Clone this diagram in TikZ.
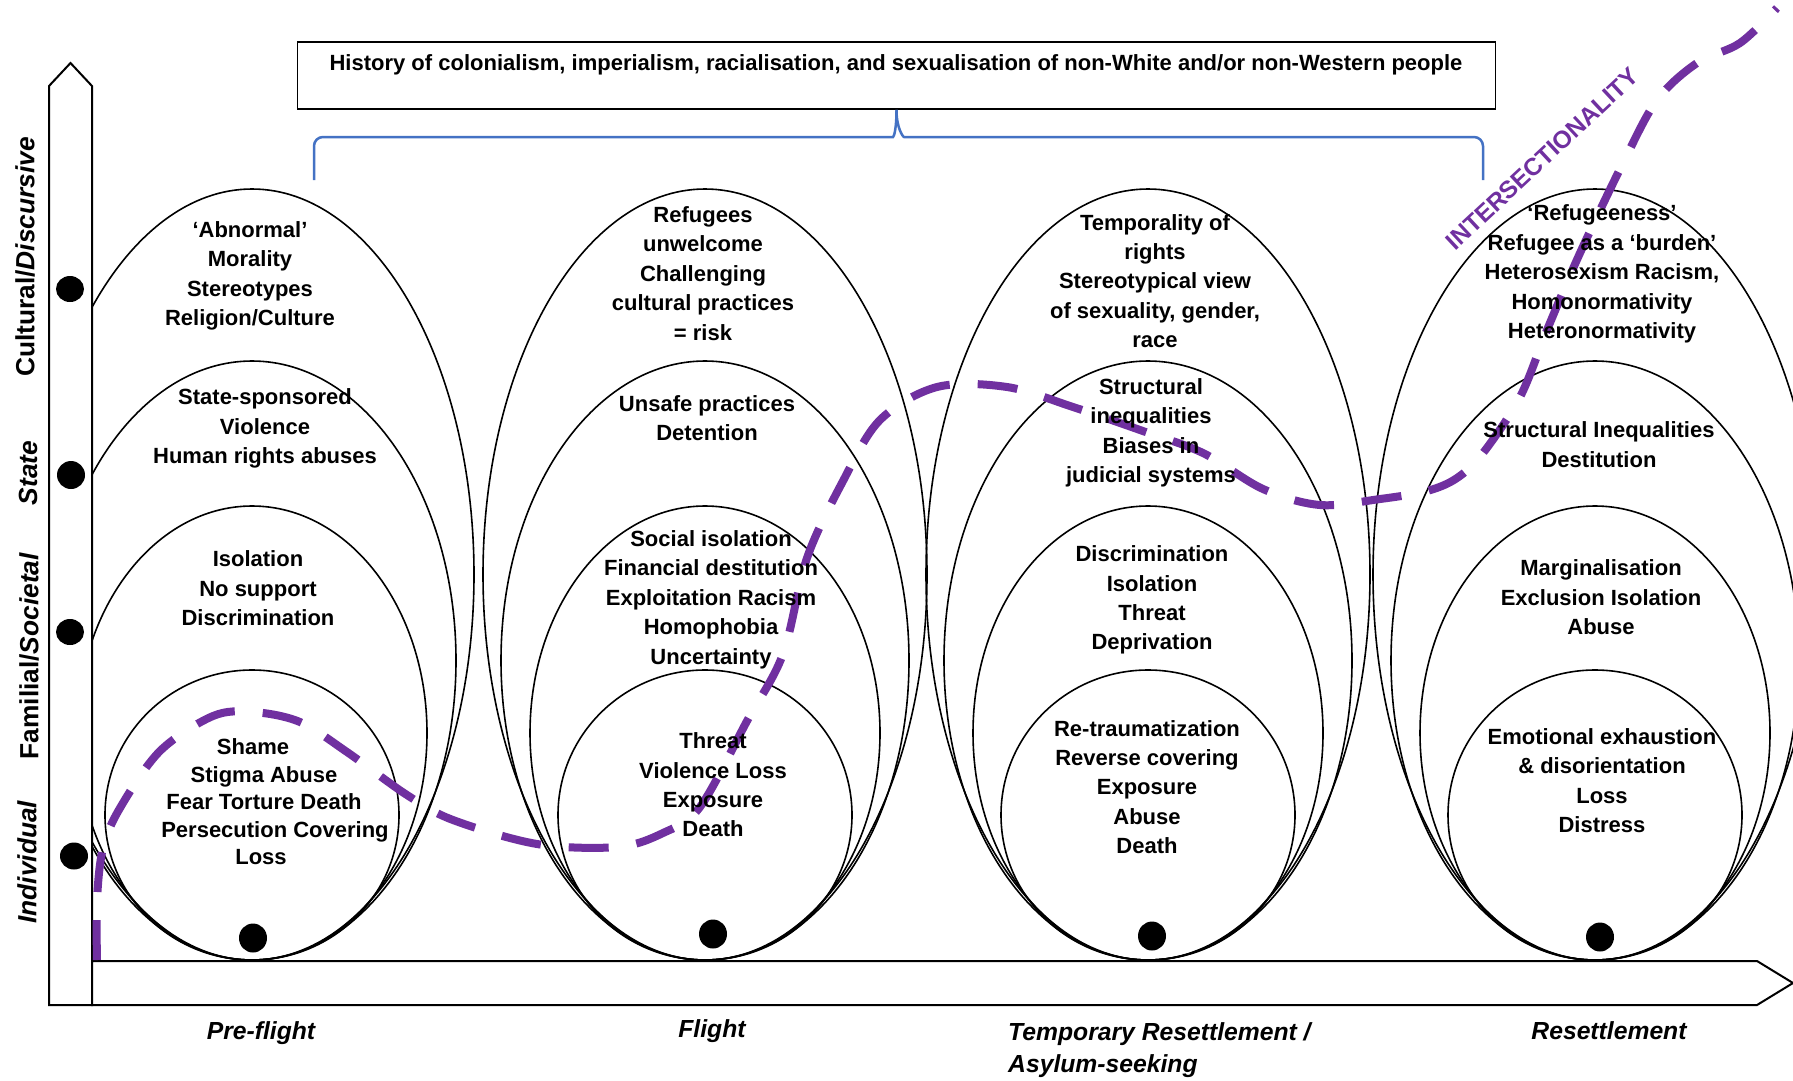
\documentclass[tikz,border=0pt]{standalone}
\usepackage{fontspec}
\setmainfont{Liberation Sans}
\definecolor{ipurple}{RGB}{112,48,160}
\definecolor{bblue}{RGB}{68,114,196}
\begin{document}
\begin{tikzpicture}[x=1pt,y=-1pt,
  ring/.style={draw=black,line width=1.6pt},
  axisbox/.style={draw=black,line width=2pt,fill=white,line join=miter},
  txt/.style={font=\fontsize{22}{29.4}\selectfont\bfseries,align=center,inner sep=0pt},
  axlab/.style={font=\fontsize{26.3}{30}\selectfont\bfseries,rotate=90,inner sep=0pt},
  phase/.style={font=\fontsize{24.7}{32}\selectfont\bfseries\itshape,inner sep=0pt},
  ]
\useasboundingbox (0,0) rectangle (1793,1080);
\clip (0,0) rectangle (1793,1080);
\fill[white] (0,0) rectangle (1793,1080);

% nested ellipses
\begin{scope}
\clip (92,0) rectangle (1793,1080);
\foreach \cx in {252,705,1148,1595}{
  \draw[ring] (\cx,574.5) ellipse [x radius=222pt,y radius=385.5pt];
  \draw[ring] (\cx,660.5) ellipse [x radius=204pt,y radius=299.5pt];
  \draw[ring] (\cx,733) ellipse [x radius=175pt,y radius=227pt];
  \draw[ring] (\cx,815) ellipse [x radius=147pt,y radius=145pt];
}
\end{scope}

% axes
\draw[axisbox] (49,1005) -- (49,86) -- (70.5,63) -- (92,86) -- (92,1005) -- cycle;
\draw[axisbox] (92,961) -- (1757,961) -- (1793,983) -- (1757,1005) -- (92,1005) -- cycle;

% top box and brace
\node[draw=black,line width=1.8pt,minimum width=1198pt,minimum height=67pt,inner sep=0pt] (hist) at (896.5,75.5) {};
\node[font=\fontsize{22}{26}\selectfont\bfseries,inner sep=0pt] (histtxt) at (896,65) {History of colonialism, imperialism, racialisation, and sexualisation of non-White and/or non-Western people};
\draw[bblue,line width=2.5pt,rounded corners=9pt] (314,180) -- (314,137) -- (884,137)
   [sharp corners] .. controls (894,137) and (hist.south |- 0,128) .. (hist.south);
\draw[bblue,line width=2.5pt,rounded corners=9pt] (1483,180) -- (1483,137) -- (913,137)
   [sharp corners] .. controls (903,137) and (hist.south |- 0,128) .. (hist.south);

% intersectionality line
\draw[ipurple,line width=8pt,dash pattern=on 40pt off 28pt]
  plot[smooth,tension=0.55] coordinates {(97,960) (97,900) (103,848) (120,808) (160,751) (213,716) (253,712) (300,722) (347,752) (407,795) (453,820) (537,844) (617,847) (663,833) (700,807) (747,721) (783,654) (807,558) (843,481) (880,420) (937,387) (1007,387) (1073,407) (1140,430) (1203,453) (1263,489) (1320,505) (1380,499) (1427,491) (1457,478) (1483,453) (1520,397) (1547,330) (1580,253) (1623,163) (1657,100) (1697,63) (1740,43) (1777,8)};
\node[ipurple,font=\fontsize{24.5}{28}\selectfont\bfseries,rotate=43,inner sep=0pt] (inter) at (1542,159) {INTERSECTIONALITY};

% texts column 1
\node[txt] (c1a) at (250,276) {‘Abnormal’\\Morality\\Stereotypes\\Religion/Culture};
\node[txt] (c1b) at (265,428.5) {State-sponsored\\Violence\\Human rights abuses};
\node[txt] (c1c) at (258,588.5) {Isolation\\No support\\Discrimination};
\node[txt,font=\fontsize{22}{27.5}\selectfont\bfseries] (c1d) at (264,802) {Shame\hspace*{22pt}\\Stigma Abuse\hspace*{8pt}\\Fear Torture Death\hspace*{8pt}\\\hspace*{22pt}Persecution Covering\\Loss\hspace*{6pt}};
% column 2
\node[txt] (c2a) at (703,273.5) {Refugees\\unwelcome\\Challenging\\cultural practices\\= risk};
\node[txt] (c2b) at (707,418) {Unsafe practices\\Detention};
\node[txt] (c2c) at (711,599.5) {Social isolation\\Financial destitution\\Exploitation Racism\\Homophobia\\Uncertainty};
\node[txt] (c2d) at (713,785) {Threat\\Violence Loss\\Exposure\\Death};
% column 3
\node[txt] (c3a) at (1155,281) {Temporality of\\rights\\Stereotypical view\\of sexuality, gender,\\race};
\node[txt] (c3b) at (1151,433) {Structural\\inequalities\\Biases in\\judicial systems};
\node[txt] (c3c) at (1152,600) {Discrimination\\Isolation\\Threat\\Deprivation};
\node[txt] (c3d) at (1147,787) {Re-traumatization\\Reverse covering\\Exposure\\Abuse\\Death};
% column 4
\node[txt] (c4a) at (1602,274) {‘Refugeeness’\\Refugee as a ‘burden’\\Heterosexism Racism,\\Homonormativity\\Heteronormativity};
\node[txt] (c4b) at (1599,444.5) {Structural Inequalities\\Destitution};
\node[txt] (c4c) at (1601,597.5) {Marginalisation\\Exclusion Isolation\\Abuse};
\node[txt] (c4d) at (1602,780.5) {Emotional exhaustion\\\& disorientation\\Loss\\Distress};

% axis labels
\node[axlab] (lcult) at (25,257) {Cultural/\textit{Discursive}};
\node[axlab] (lstate) at (28,473) {\textit{State}};
\node[axlab] (lfam) at (29,656) {Familial/\textit{Societal}};
\node[axlab] (lind) at (27,862) {\textit{Individual}};

% phase labels
\node[phase] (p1) at (261,1033) {Pre-flight};
\node[phase] (p2) at (712,1031) {Flight};
\node[phase,anchor=west,align=left] (p3) at (1008,1050) {Temporary Resettlement /\\Asylum-seeking};
\node[phase] (p4) at (1609,1031) {Resettlement};

% dots
\fill (70,289) ellipse [x radius=14pt,y radius=13pt];
\fill (71,475) ellipse [x radius=14pt,y radius=14pt];
\fill (70,632) ellipse [x radius=14pt,y radius=13pt];
\fill (74,856) ellipse [x radius=14pt,y radius=13.5pt];
\fill (253,938) ellipse [x radius=14pt,y radius=14.5pt];
\fill (713,934) ellipse [x radius=14pt,y radius=14.5pt];
\fill (1152,936) ellipse [x radius=14pt,y radius=14.5pt];
\fill (1600,937) ellipse [x radius=14pt,y radius=14.5pt];
\end{tikzpicture}
\end{document}
